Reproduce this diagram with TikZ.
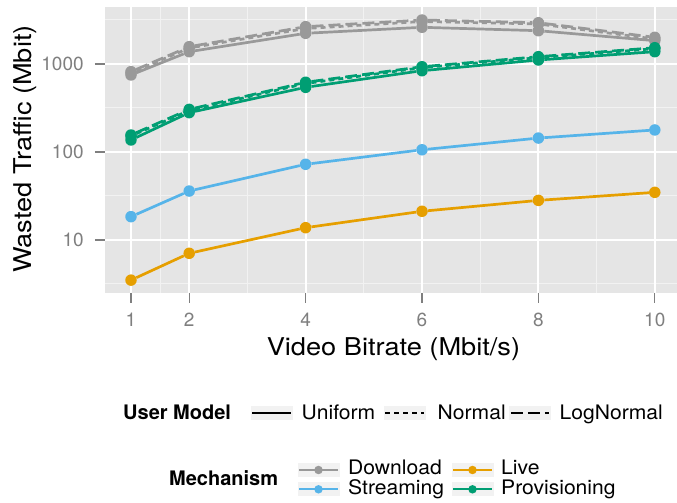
\documentclass[tikz,border=0pt]{standalone}
\usepackage{fontspec}
\setmainfont{TeX Gyre Heros}
\newfontfamily\titrefont[FakeStretch=1.11]{TeX Gyre Heros}
\newfontfamily\legendefont[FakeStretch=1.055]{TeX Gyre Heros}
\definecolor{dlgray}{HTML}{999999}
\definecolor{strblue}{HTML}{56B4E9}
\definecolor{liveorange}{HTML}{E69F00}
\definecolor{provgreen}{HTML}{009E73}
\definecolor{gris90}{HTML}{E5E5E5}
\definecolor{gris95}{HTML}{F2F2F2}
\definecolor{gris50}{HTML}{7F7F7F}

\begin{document}
\begin{tikzpicture}[x=1pt,y=1pt]
    % Styles
    \tikzstyle{pointmesure}=[circle, inner sep=0pt, minimum size=11.5pt]
    \tikzstyle{courbe}=[line width=2.7pt, line join=round]
    \tikzstyle{normale}=[dash pattern=on 5pt off 4pt]
    \tikzstyle{lognormale}=[dash pattern=on 12pt off 5pt]
    \tikzstyle{grillemaj}=[draw=white, line width=2pt]
    \tikzstyle{grillemin}=[draw=gris95, line width=1pt]
    \tikzstyle{graduation}=[draw=gris50, line width=1.2pt]
    \tikzstyle{etiquette}=[inner sep=0pt, text=gris50, font=\fontsize{19}{19}\selectfont]
    \tikzstyle{titre}=[inner sep=0pt, anchor=base, font=\titrefont\fontsize{24.5}{24.5}\selectfont]
    \tikzstyle{legende}=[inner sep=0pt, anchor=base west, font=\legendefont\fontsize{20}{20}\selectfont]
    \tikzstyle{titrelegende}=[inner sep=0pt, anchor=base west, font=\fontsize{20}{20}\selectfont\bfseries]
    \tikzstyle{cle}=[fill=gris95, minimum width=42pt, minimum height=14pt, inner sep=0pt]

    \useasboundingbox (0,0) rectangle (677,503);

    \begin{scope}[shift={(72.8,175)}, x=58.2pt, y=88pt]
        % Panneau et grille
        \fill[gris90] (0.55,0.398) rectangle (10.45,3.648);
        \draw[grillemin] (0.55,0.5) -- (10.45,0.5) (0.55,1.5) -- (10.45,1.5)
            (0.55,2.5) -- (10.45,2.5) (0.55,3.5) -- (10.45,3.5)
            (1.5,0.398) -- (1.5,3.648) (3,0.398) -- (3,3.648) (5,0.398) -- (5,3.648)
            (7,0.398) -- (7,3.648) (9,0.398) -- (9,3.648);
        \draw[grillemaj] (0.55,1) -- (10.45,1) (0.55,2) -- (10.45,2) (0.55,3) -- (10.45,3)
            (1,0.398) -- (1,3.648) (2,0.398) -- (2,3.648) (4,0.398) -- (4,3.648)
            (6,0.398) -- (6,3.648) (8,0.398) -- (8,3.648) (10,0.398) -- (10,3.648);

        % Axes
        \draw[graduation] (0.381,1) -- (0.55,1) (0.381,2) -- (0.55,2) (0.381,3) -- (0.55,3)
            (1,0.398) -- (1,0.284) (2,0.398) -- (2,0.284) (4,0.398) -- (4,0.284)
            (6,0.398) -- (6,0.284) (8,0.398) -- (8,0.284) (10,0.398) -- (10,0.284);
        \node[etiquette, anchor=east] (y10) at (0.19,1) {10};
        \node[etiquette, anchor=east] (y100) at (0.19,2) {100};
        \node[etiquette, anchor=east] (y1000) at (0.19,3) {1000};
        \node[etiquette, anchor=base] (x1) at (1,0.015) {1};
        \node[etiquette, anchor=base] (x2) at (2,0.015) {2};
        \node[etiquette, anchor=base] (x4) at (4,0.015) {4};
        \node[etiquette, anchor=base] (x6) at (6,0.015) {6};
        \node[etiquette, anchor=base] (x8) at (8,0.015) {8};
        \node[etiquette, anchor=base] (x10) at (10,0.015) {10};
        \node[titre] (titrex) at (5.51,-0.318) {Video Bitrate (Mbit/s)};
        \node[titre, rotate=90] (titrey) at (-0.718,2.034) {Wasted Traffic (Mbit)};

        % Download
        \foreach \x/\v [count=\i] in {1/750,2/1380,4/2233,6/2612,8/2390,10/1841}
            \node[pointmesure, fill=dlgray] (du\i) at (\x,{log10(\v)}) {};
        \draw[courbe, dlgray] (du1) -- (du2) -- (du3) -- (du4) -- (du5) -- (du6);
        \foreach \x/\v [count=\i] in {1/790,2/1520,4/2530,6/3040,8/2850,10/1923}
            \node[pointmesure, fill=dlgray] (dn\i) at (\x,{log10(\v)}) {};
        \draw[courbe, normale, dlgray] (dn1) -- (dn2) -- (dn3) -- (dn4) -- (dn5) -- (dn6);
        \foreach \x/\v [count=\i] in {1/818,2/1574,4/2655,6/3162,8/2944,10/2010}
            \node[pointmesure, fill=dlgray] (dl\i) at (\x,{log10(\v)}) {};
        \draw[courbe, lognormale, dlgray] (dl1) -- (dl2) -- (dl3) -- (dl4) -- (dl5) -- (dl6);

        % Provisioning
        \foreach \x/\v [count=\i] in {1/137,2/280,4/543,6/839,8/1110,10/1380}
            \node[pointmesure, fill=provgreen] (pu\i) at (\x,{log10(\v)}) {};
        \draw[courbe, provgreen] (pu1) -- (pu2) -- (pu3) -- (pu4) -- (pu5) -- (pu6);
        \foreach \x/\v [count=\i] in {1/152,2/296,4/600,6/908,8/1180,10/1493}
            \node[pointmesure, fill=provgreen] (pn\i) at (\x,{log10(\v)}) {};
        \draw[courbe, normale, provgreen] (pn1) -- (pn2) -- (pn3) -- (pn4) -- (pn5) -- (pn6);
        \foreach \x/\v [count=\i] in {1/156,2/305,4/620,6/931,8/1211,10/1531}
            \node[pointmesure, fill=provgreen] (pl\i) at (\x,{log10(\v)}) {};
        \draw[courbe, lognormale, provgreen] (pl1) -- (pl2) -- (pl3) -- (pl4) -- (pl5) -- (pl6);

        % Streaming et Live
        \foreach \x/\v [count=\i] in {1/18.4,2/36,4/72.5,6/106,8/144,10/178}
            \node[pointmesure, fill=strblue] (s\i) at (\x,{log10(\v)}) {};
        \draw[courbe, strblue] (s1) -- (s2) -- (s3) -- (s4) -- (s5) -- (s6);
        \foreach \x/\v [count=\i] in {1/3.5,2/7.06,4/13.8,6/21.2,8/28.2,10/34.8}
            \node[pointmesure, fill=liveorange] (l\i) at (\x,{log10(\v)}) {};
        \draw[courbe, liveorange] (l1) -- (l2) -- (l3) -- (l4) -- (l5) -- (l6);
    \end{scope}

    % Légende : modèle d'utilisateur
    \node[titrelegende] (um) at (123,83.7) {User Model};
    \node[cle] (kuni) at (271.5,90) {};
    \draw[line width=2pt] ([xshift=2pt]kuni.west) -- ([xshift=-2pt]kuni.east);
    \node[legende] (uni) at (301.5,83.7) {Uniform};
    \node[cle] (knor) at (404.5,90) {};
    \draw[line width=2pt, normale] ([xshift=2pt]knor.west) -- ([xshift=-2pt]knor.east);
    \node[legende] (nor) at (437.5,83.7) {Normal};
    \node[cle] (klog) at (530,90) {};
    \draw[line width=2pt, lognormale] ([xshift=2pt]klog.west) -- ([xshift=-2pt]klog.east);
    \node[legende] (lgn) at (559.5,83.7) {LogNormal};

    % Légende : mécanisme
    \node[titrelegende] (mec) at (169,17) {Mechanism};
    \node[cle] (kdl) at (318.5,33) {};
    \draw[line width=2pt, dlgray] ([xshift=2pt]kdl.west) -- ([xshift=-2pt]kdl.east);
    \node[pointmesure, fill=dlgray, minimum size=8.5pt] (kdlp) at (kdl) {};
    \node[legende] (dl) at (348,28) {Download};
    \node[cle] (kst) at (318.5,13.7) {};
    \draw[line width=2pt, strblue] ([xshift=2pt]kst.west) -- ([xshift=-2pt]kst.east);
    \node[pointmesure, fill=strblue, minimum size=8.5pt] (kstp) at (kst) {};
    \node[legende] (st) at (348,8.7) {Streaming};
    \node[cle] (kli) at (472.5,33) {};
    \draw[line width=2pt, liveorange] ([xshift=2pt]kli.west) -- ([xshift=-2pt]kli.east);
    \node[pointmesure, fill=liveorange, minimum size=8.5pt] (klip) at (kli) {};
    \node[legende] (li) at (501,28) {Live};
    \node[cle] (kpr) at (472.5,13.7) {};
    \draw[line width=2pt, provgreen] ([xshift=2pt]kpr.west) -- ([xshift=-2pt]kpr.east);
    \node[pointmesure, fill=provgreen, minimum size=8.5pt] (kprp) at (kpr) {};
    \node[legende] (pr) at (501,8.7) {Provisioning};
\end{tikzpicture}
\end{document}
